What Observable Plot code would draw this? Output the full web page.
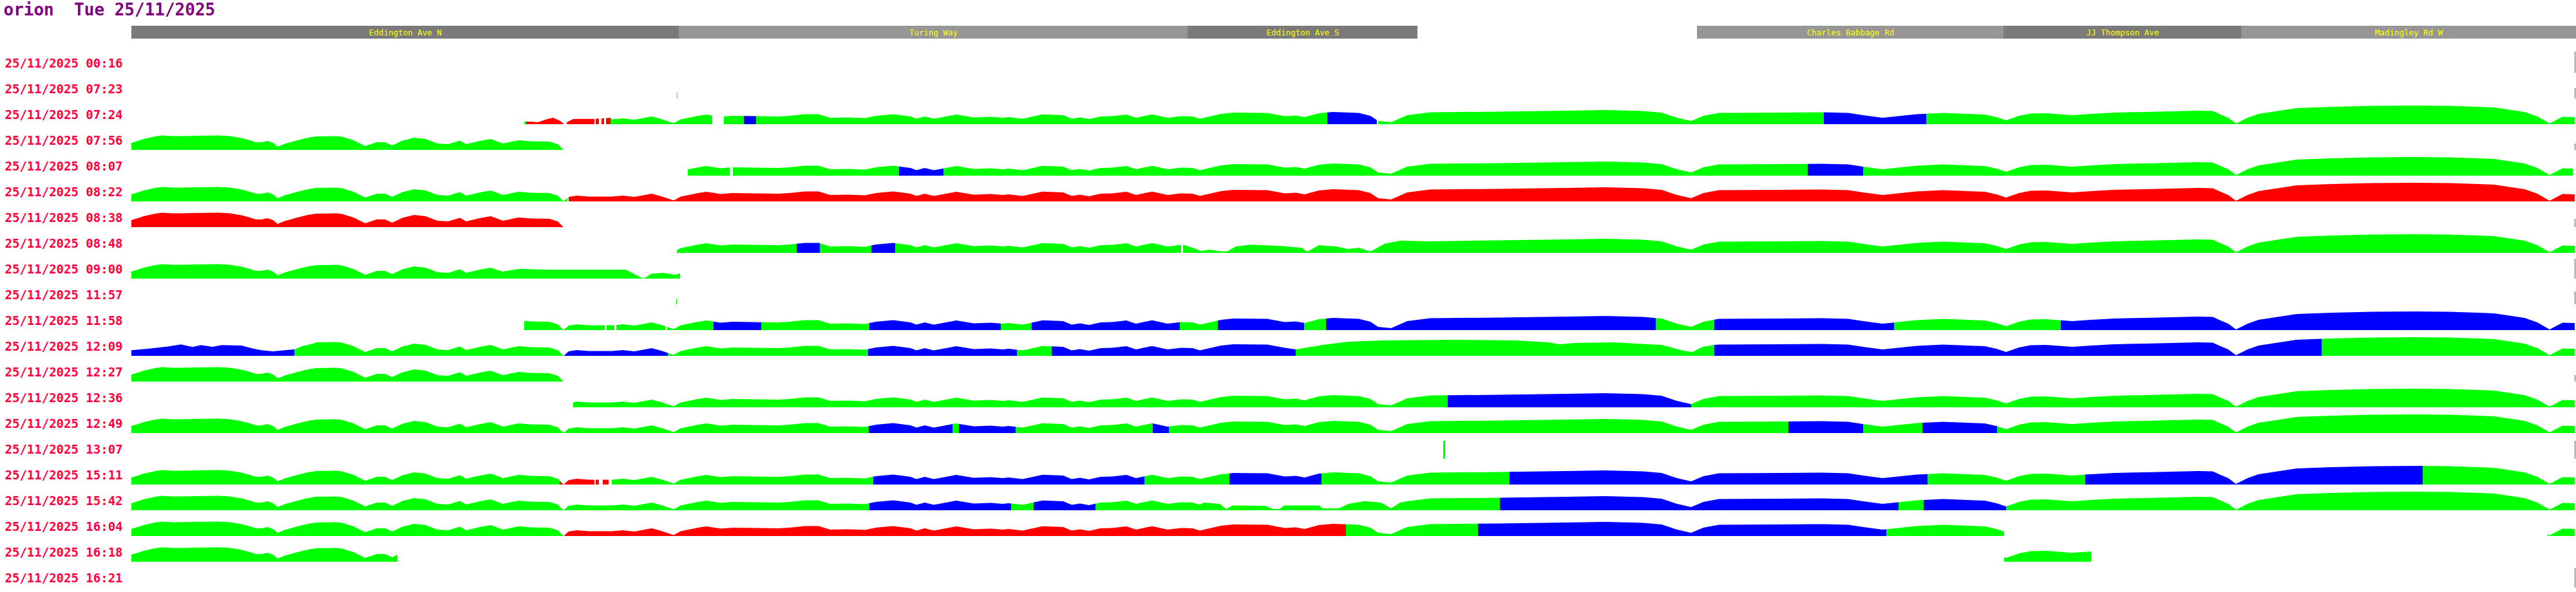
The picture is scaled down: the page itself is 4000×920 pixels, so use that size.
<!DOCTYPE html>
<html>
<head>
<meta charset="utf-8">
<script src="https://cdn.jsdelivr.net/npm/d3@7"></script>
<script src="https://cdn.jsdelivr.net/npm/@observablehq/plot@0.6"></script>
<style>
  html, body { margin: 0; padding: 0; background: #fff; }
  svg { display: block; }
  svg text { white-space: pre; }
</style>
</head>
<body>
<div id="chart"></div>
<script>
// ---------- data ----------
const titleText = "orion  Tue 25/11/2025";

const tripLabels = [
  "25/11/2025 00:16", "25/11/2025 07:23", "25/11/2025 07:24", "25/11/2025 07:56",
  "25/11/2025 08:07", "25/11/2025 08:22", "25/11/2025 08:38", "25/11/2025 08:48",
  "25/11/2025 09:00", "25/11/2025 11:57", "25/11/2025 11:58", "25/11/2025 12:09",
  "25/11/2025 12:27", "25/11/2025 12:36", "25/11/2025 12:49", "25/11/2025 13:07",
  "25/11/2025 15:11", "25/11/2025 15:42", "25/11/2025 16:04", "25/11/2025 16:18",
  "25/11/2025 16:21"
];

// roads along the route (distance in m from route start)
const roadNames = ["Eddington Ave N", "Turing Way", "Eddington Ave S", "Charles Babbage Rd", "JJ Thompson Ave", "Madingley Rd W"];
const roadStart = [0, 850, 1640, 2431, 2907, 3276];
const roadEnd   = [850, 1640, 1997, 2907, 3276, 3796];
const roadShade = ["dark", "light", "dark", "light", "dark", "light"];

// typical speed profile along the route [distance m, speed mph]
const routeProfile = [
  [0,11],[10,14],[19,17],[37,21],[48,22.5],[64,21.5],[77,21.5],[100,22],[135,22.5],[153,21.5],
  [171,18.5],[184,15],[193,12],[202,12],[211,14],[220,11],[227,5],[238,9.5],[256,14.5],[274,19],
  [287,21],[318,21.5],[327,20.5],[345,15],[363,6],[381,12],[394,12],[405,7],[421,14.5],[439,19],
  [457,17],[475,10],[492,9],[510,14.5],[520,9],[541,14],[558,17],[577,10],[601,15],[620,13.5],
  [649,13],[662,9],[671,0],[679,7],[692,9],[710,7.5],[746,7.5],[763,9],[781,7],[808,12],
  [826,7],[842,1.5],[853,7.5],[880,13],[893,15],[915,11.5],[933,13],[1005,12],[1022,13],[1046,15.5],
  [1067,15.5],[1085,10],[1112,10.5],[1139,9.5],[1156,13],[1183,15.5],[1210,12],[1219,8.5],[1232,12],[1246,8.5],
  [1281,15],[1308,10.5],[1335,11.5],[1353,10],[1362,11],[1384,8.5],[1415,15.3],[1447,14],[1460,8.5],[1473,10.5],
  [1487,8],[1505,12],[1523,12.5],[1545,15],[1560,10],[1585,15.3],[1609,10],[1630,12.5],[1648,12],[1659,8.5],
  [1692,16],[1711,18],[1764,17.5],[1791,12.5],[1808,13.5],[1822,11],[1844,17],[1866,19],[1906,17.5],[1924,13],
  [1936,5],[1946,4],[1956,3],[1981,14],[2017,18.5],[2123,19.5],[2229,21],[2288,22],[2347,20.5],[2376,18],
  [2400,10],[2422,5],[2441,13],[2465,17.5],[2560,18],[2625,18.5],[2666,17.5],[2689,14],[2719,10],[2748,13],
  [2772,15.5],[2813,17.5],[2878,15],[2896,11],[2911,6],[2931,13],[2949,16.5],[2973,17],[3014,14],[3043,16],
  [3079,18],[3126,19],[3209,21],[3232,20.5],[3244,15],[3256,10],[3268,1],[3286,10],[3303,16],[3336,21],
  [3362,25],[3416,27],[3480,28.5],[3546,29],[3598,28.5],[3645,27],[3669,26],[3696,22],[3716,19],[3736,12],
  [3755,1],[3775,11.5],[3796,11]
];

// trip-specific speed readings where a trip differs from the typical profile [distance m, speed mph]
const custom0724  = [[610,4],[621,4],[631,3],[646,8],[655,10],[666,5],[672,0],[676,3],[686,8],[696,8.3],[719,8.3],[744,10]];
const custom0848  = [[1633,12.7],[1648,8],[1661,3],[1674,5],[1688,3],[1701,2],[1715,10],[1737,12.7],[1781,11],[1817,8],
                     [1826,2],[1844,12],[1871,10],[1889,6],[1906,8],[1924,2],[1942,12],[1946,14.3],[1970,19],[2017,18]];
const custom0900  = [[576,11],[603,15.3],[640,14],[665,14],[763,14],[768,13.7],[795,0],[808,7.7],[826,9],[844,6],[852,8.3]];
const custom1209a = [[0,8.7],[28,11.3],[55,14.3],[77,17.7],[95,13.7],[108,16.7],[126,14],[140,16.7],[171,16],[189,11.3],
                     [202,8.7],[220,7],[238,8.7],[253,10],[265,15],[283,19.3]];
const custom1209b = [[1808,10],[1850,17],[1890,22],[1946,24],[2050,25],[2150,24],[2200,21],[2217,18],[2240,20],[2300,21],
                     [2376,17],[2410,8],[2424,6],[2440,14],[2458,17]];
const custom1542  = [[1665,12],[1690,10],[1700,2],[1710,7.5],[1760,7],[1773,2],[1783,2],[1790,7.5],[1844,7.5],[1850,3],
                     [1875,3],[1890,10],[1915,14.3],[1940,12],[1956,3],[1970,12]];

// segments per trip: [from m, to m, status]
const seg0016 = [];
const seg0723 = [];
const seg0724 = [[610,613,"ontime"],[613,672,"late"],[676,719,"late"],[721,726,"late"],[730,734,"late"],[737,744,"late"],
  [744,902,"ontime"],[920,951,"ontime"],[951,970,"early"],[970,1857,"ontime"],[1857,1934,"early"],[1936,2628,"ontime"],
  [2628,2787,"early"],[2787,3794,"ontime"]];
const seg0756 = [[0,671,"ontime"]];
const seg0807 = [[864,929,"ontime"],[934,1192,"ontime"],[1192,1261,"early"],[1261,2603,"ontime"],[2603,2689,"early"],[2689,3791,"ontime"]];
const seg0822 = [[0,677,"ontime"],[679,3794,"late"]];
const seg0838 = [[0,671,"late"]];
const seg0848 = [[847,1033,"ontime"],[1033,1069,"early"],[1069,1149,"ontime"],[1149,1186,"early"],[1186,1630,"ontime"],[1633,3794,"ontime"]];
const seg0900 = [[0,852,"ontime"]];
const seg1157 = [];
const seg1158 = [[610,735,"ontime"],[738,750,"ontime"],[753,829,"ontime"],[832,904,"ontime"],[904,978,"early"],[978,1146,"ontime"],
  [1146,1350,"early"],[1350,1398,"ontime"],[1398,1628,"early"],[1628,1687,"ontime"],[1687,1821,"early"],[1821,1855,"ontime"],
  [1855,2367,"early"],[2367,2458,"ontime"],[2458,2737,"early"],[2737,2996,"ontime"],[2996,3794,"early"]];
const seg1209 = [[0,253,"early"],[253,672,"ontime"],[672,833,"early"],[833,1144,"ontime"],[1144,1375,"early"],[1375,1429,"ontime"],
  [1429,1808,"early"],[1808,2458,"ontime"],[2458,3401,"early"],[3401,3794,"ontime"]];
const seg1227 = [[0,672,"ontime"]];
const seg1236 = [[686,2044,"ontime"],[2044,2422,"early"],[2422,3794,"ontime"]];
const seg1249 = [[0,1145,"ontime"],[1145,1275,"early"],[1275,1285,"ontime"],[1285,1373,"early"],[1373,1586,"ontime"],[1586,1611,"early"],
  [1611,2573,"ontime"],[2573,2689,"early"],[2689,2781,"ontime"],[2781,2897,"early"],[2897,3794,"ontime"]];
const seg1307 = [];
const seg1511 = [[0,665,"ontime"],[665,719,"late"],[721,726,"late"],[732,741,"late"],[746,1152,"ontime"],[1152,1573,"early"],
  [1573,1705,"ontime"],[1705,1848,"early"],[1848,2140,"ontime"],[2140,2789,"early"],[2789,3034,"ontime"],[3034,3558,"early"],[3558,3794,"ontime"]];
const seg1542 = [[0,1146,"ontime"],[1146,1366,"early"],[1366,1401,"ontime"],[1401,1497,"early"],[1497,2125,"ontime"],[2125,2744,"early"],
  [2744,2783,"ontime"],[2783,2911,"early"],[2911,3794,"ontime"]];
const seg1604 = [[0,672,"ontime"],[672,1886,"late"],[1886,2091,"ontime"],[2091,2725,"early"],[2725,2908,"ontime"],[3752,3794,"ontime"]];
const seg1618 = [[0,413,"ontime"],[2908,3043,"ontime"]];
const seg1621 = [];

// single readings (stubs)
const stubTrip   = ["25/11/2025 00:16","25/11/2025 07:23","25/11/2025 07:23","25/11/2025 07:56","25/11/2025 08:38","25/11/2025 09:00",
                    "25/11/2025 11:57","25/11/2025 11:57","25/11/2025 12:27","25/11/2025 13:07","25/11/2025 13:07","25/11/2025 16:21"];
const stubFrom   = [3794, 3794, 847, 3794, 3794, 3794, 3794, 846, 3794, 3794, 2037, 3794];
const stubTo     = [3795, 3795, 848, 3795, 3795, 3795, 3795, 847, 3795, 3795, 2040, 3795];
const stubSpeed  = [33, 16, 10, 10, 13, 31, 20, 9, 10, 28, 28, 30];
const stubStatus = ["terminus","terminus","ontime","terminus","terminus","terminus","terminus","ontime","terminus","terminus","ontime","terminus"];

const statusNames  = ["ontime", "late", "early", "terminus"];
const statusColors = ["#00ff00", "#ff0000", "#0000ff", "#555555"];

// ---------- build ----------
const tripSegments = [seg0016, seg0723, seg0724, seg0756, seg0807, seg0822, seg0838, seg0848, seg0900, seg1157, seg1158,
                      seg1209, seg1227, seg1236, seg1249, seg1307, seg1511, seg1542, seg1604, seg1618, seg1621];
const tripCustom = {2: [custom0724], 7: [custom0848], 8: [custom0900], 11: [custom1209a, custom1209b], 17: [custom1542]};

function tripProfile(customs) {
  let prof = routeProfile;
  for (const custom of customs || []) {
    const lo = custom[0][0], hi = custom[custom.length - 1][0];
    prof = [...prof.filter(p => p[0] < lo), ...custom, ...prof.filter(p => p[0] > hi)];
  }
  return prof;
}

const areaPoints = [];
tripLabels.forEach((label, ti) => {
  const prof = tripProfile(tripCustom[ti]);
  const f = d3.scaleLinear(prof.map(p => p[0]), prof.map(p => p[1]));
  tripSegments[ti].forEach(([a, b, status], k) => {
    const ds = [a, ...prof.map(p => p[0]).filter(d => d > a && d < b), b];
    for (const d of ds) areaPoints.push({trip: label, seg: ti + "-" + k, status, dist: d, speed: f(d)});
  });
});

const stubs = stubTrip.map((t, i) => ({trip: t, from: stubFrom[i], to: stubTo[i], speed: stubSpeed[i], status: stubStatus[i]}));
const roads = roadNames.map((n, i) => ({name: n, start: roadStart[i], end: roadEnd[i], shade: roadShade[i]}));

const W = 4000;
const mono = "DejaVu Sans Mono";

const header = Plot.plot({
  width: W, height: 73,
  marginLeft: 204, marginRight: 0, marginTop: 40, marginBottom: 13,
  x: {domain: [0, 3796], axis: null},
  y: {axis: null},
  color: {domain: ["dark", "light"], range: ["#7a7a7a", "#969696"]},
  style: {background: "#fff"},
  marks: [
    Plot.rect(roads, {x1: "start", x2: "end", fill: "shade", shapeRendering: "crispEdges"}),
    Plot.text(roads, {x: d => (d.start + d.end) / 2, text: "name", frameAnchor: "middle",
      fill: "#ffff00", fontSize: 12.5, fontFamily: mono}),
    Plot.text([titleText], {text: d => d, frameAnchor: "top-left", dx: -199, dy: -35, lineAnchor: "top",
      textAnchor: "start", fill: "#800080", fontSize: 26, fontWeight: "bold", fontFamily: mono})
  ]
});

const chart = Plot.plot({
  width: W, height: 847,
  marginLeft: 204, marginRight: 0, marginTop: 0, marginBottom: 7,
  x: {domain: [0, 3796], axis: null},
  y: {domain: [0, 40], axis: null},
  fy: {domain: tripLabels, padding: 0, axis: null},
  color: {domain: statusNames, range: statusColors},
  style: {background: "#fff"},
  marks: [
    Plot.area(areaPoints, {x1: "dist", y1: 0, y2: "speed", z: "seg", fill: "status", fy: "trip", curve: "linear"}),
    Plot.rect(stubs, {x1: "from", x2: "to", y1: 0, y2: "speed", fill: "status", fy: "trip", shapeRendering: "crispEdges"}),
    Plot.text(tripLabels, {fy: d => d, text: d => d, frameAnchor: "left", dx: -197, dy: 5, textAnchor: "start",
      fill: "#ff0040", fontSize: 19, fontWeight: "bold", fontFamily: mono})
  ]
});

const root = document.getElementById("chart");
root.appendChild(header);
root.appendChild(chart);
</script>
</body>
</html>
